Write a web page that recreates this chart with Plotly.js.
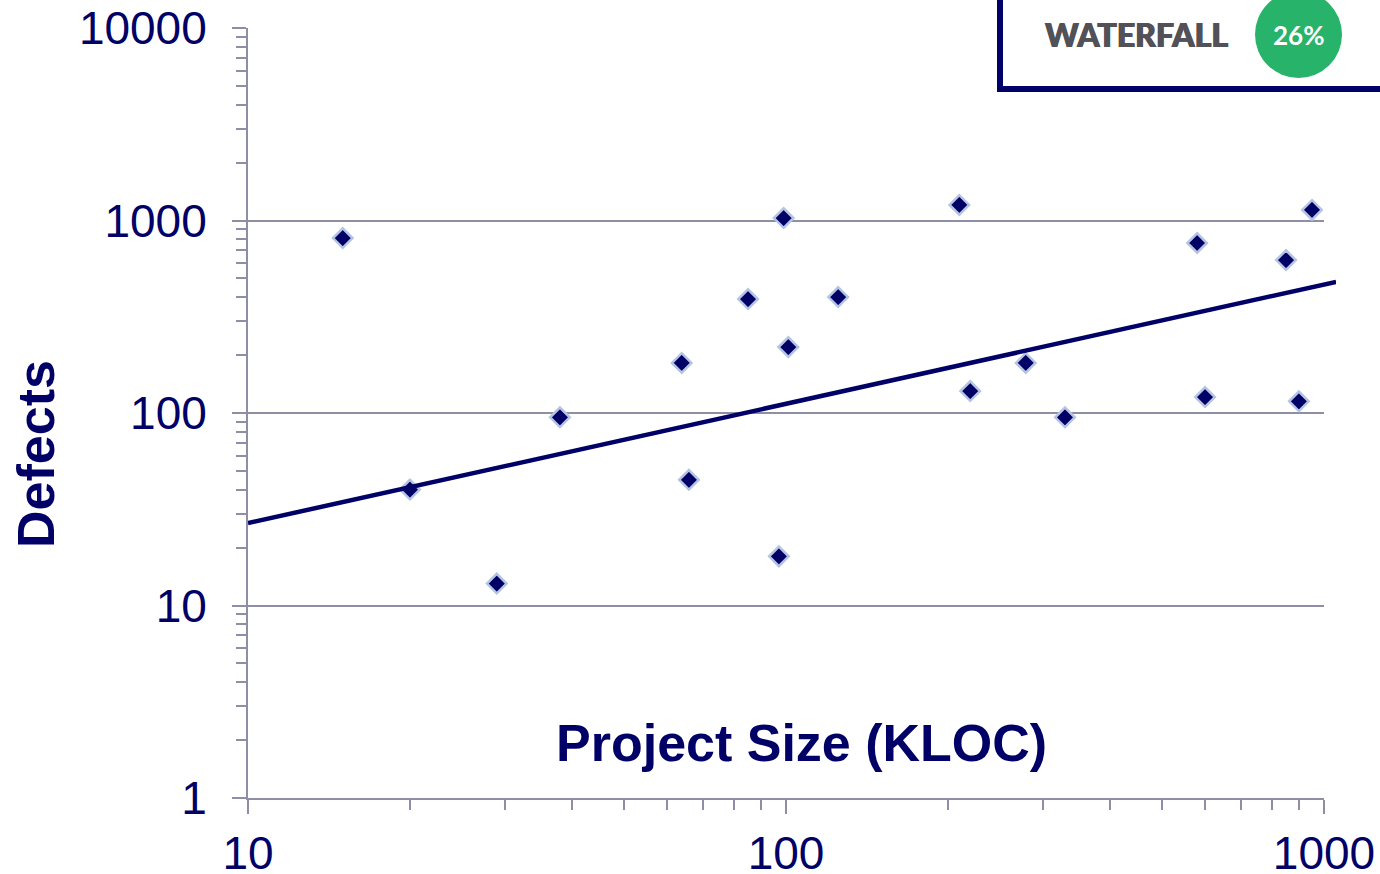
<!DOCTYPE html>
<html>
<head>
<meta charset="utf-8">
<script src="https://cdn.plot.ly/plotly-3.0.1.min.js"></script>
<style>
html,body{margin:0;padding:0;background:#fff;}
#chart{width:1380px;height:874px;}
</style>
</head>
<body>
<div id="chart"></div>
<script>
// ---- data ----
var projectSize = [15, 20, 29, 38, 64, 66, 85, 99, 101, 97, 125, 210, 220, 279, 330, 581, 601, 850, 898, 950];
var defects     = [811, 40, 13, 95, 182, 45, 391, 1030, 220, 18, 400, 1204, 130, 182, 95, 764, 121, 623, 115, 1134];
var trendX = [10, 1053];
var trendY = [26.8, 480];
var xTickVals = [10, 100, 1000];
var xTickText = ['10', '100', '1000'];
var yTickVals = [1, 10, 100, 1000, 10000];
var yTickText = ['1', '10', '100', '1000', '10000'];
var xTitle = 'Project Size (KLOC)';
var yTitle = 'Defects';
var badgeLabel = 'WATERFALL';
var badgeValue = '26%';

// ---- layout helpers (pixel -> paper) ----
var L = 248, T = 28, W = 1088, H = 770;
function px(x){ return (x - L) / W; }
function py(y){ return (T + H - y) / H; }

var navy = '#000066';
var gridc = '#8e8ea6';
var font = 'Liberation Sans, Arial, sans-serif';

var traces = [
  {
    x: trendX, y: trendY, type: 'scatter', mode: 'lines',
    line: {color: navy, width: 4.5},
    xaxis: 'x2', yaxis: 'y2', showlegend: false, hoverinfo: 'skip'
  },
  {
    x: projectSize, y: defects, type: 'scatter', mode: 'markers',
    marker: {symbol: 'diamond', size: 15, color: navy, line: {color: '#b4c4e2', width: 2.5}},
    xaxis: 'x', yaxis: 'y', showlegend: false, hoverinfo: 'x+y'
  }
];

var layout = {
  width: 1380, height: 874,
  margin: {l: L, r: 1380 - L - W, t: T, b: 874 - T - H, pad: 0},
  paper_bgcolor: '#fff', plot_bgcolor: 'rgba(0,0,0,0)',
  showlegend: false,
  xaxis: {
    type: 'log', domain: [0, 1076 / 1088], range: [1, 3], anchor: 'y',
    tickvals: xTickVals, ticktext: xTickText,
    ticks: 'outside', ticklen: 14, tickwidth: 2, tickcolor: gridc,
    showline: true, linecolor: gridc, linewidth: 2,
    showgrid: false, zeroline: false,
    minor: {ticks: 'outside', ticklen: 10, tickwidth: 2, tickcolor: gridc, dtick: 'D1', showgrid: false},
    tickfont: {family: font, size: 46, color: navy},
    ticklabelstandoff: 0,
    fixedrange: true
  },
  xaxis2: {
    type: 'log', domain: [0, 1], range: [1, 1 + 2 * 1088 / 1076],
    anchor: 'y2', visible: false, showgrid: false, fixedrange: true
  },
  yaxis: {
    type: 'log', range: [0, 4], anchor: 'x',
    tickvals: yTickVals, ticktext: yTickText,
    ticks: 'outside', ticklen: 14, tickwidth: 2, tickcolor: gridc,
    showline: true, linecolor: gridc, linewidth: 2,
    showgrid: true, gridcolor: gridc, gridwidth: 2,
    zeroline: false,
    minor: {ticks: 'outside', ticklen: 10, tickwidth: 2, tickcolor: gridc, dtick: 'D1', showgrid: false},
    tickfont: {family: font, size: 46, color: navy},
    ticklabelstandoff: 16,
    fixedrange: true
  },
  yaxis2: {
    type: 'log', range: [0, 4], domain: [0, 1],
    anchor: 'x2', visible: false, showgrid: false, fixedrange: true
  },
  shapes: [
    {type: 'rect', xref: 'paper', yref: 'paper',
     x0: px(1000), x1: px(1395), y0: py(89), y1: py(-20),
     fillcolor: '#ffffff', line: {color: navy, width: 6}, layer: 'above'},
    {type: 'circle', xref: 'paper', yref: 'paper',
     x0: px(1255), x1: px(1342), y0: py(78), y1: py(-9),
     fillcolor: '#27b36a', line: {width: 0}, layer: 'above'}
  ],
  annotations: [
    {text: '<b>' + xTitle + '</b>', xref: 'paper', yref: 'paper',
     x: px(801), y: py(743), xanchor: 'center', yanchor: 'middle', showarrow: false,
     font: {family: font, size: 52, color: navy}},
    {text: '<b>' + yTitle + '</b>', xref: 'paper', yref: 'paper', textangle: -90,
     x: px(36), y: py(454), xanchor: 'center', yanchor: 'middle', showarrow: false,
     font: {family: font, size: 52, color: navy}},
    {text: badgeLabel, xref: 'paper', yref: 'paper',
     x: px(1136), y: py(34), xanchor: 'center', yanchor: 'middle', showarrow: false,
     font: {family: 'Lato, sans-serif', size: 32, weight: 900, color: '#515157',
            shadow: '0.6px 0 0 #515157, -0.6px 0 0 #515157'}},
    {text: badgeValue, xref: 'paper', yref: 'paper',
     x: px(1298), y: py(35), xanchor: 'center', yanchor: 'middle', showarrow: false,
     font: {family: 'Lato, sans-serif', size: 26, weight: 700, color: '#ffffff'}}
  ]
};

Plotly.newPlot('chart', traces, layout, {displayModeBar: false, staticPlot: true});
</script>
</body>
</html>
